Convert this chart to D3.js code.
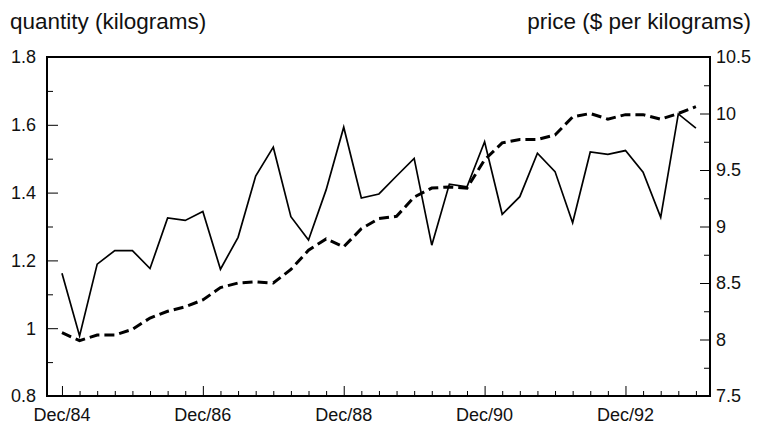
<!DOCTYPE html>
<html>
<head>
<meta charset="utf-8">
<script src="https://cdn.jsdelivr.net/npm/d3@7"></script>
<style>
  body { margin: 0; background: #fff; }
  text { font-family: "Liberation Sans", Arial, sans-serif; fill: #111; }
</style>
</head>
<body>
<script>
// quarterly observations, Dec/84 .. Dec/93
const quarters = [
  "Dec/84", "Mar/85", "Jun/85", "Sep/85", "Dec/85", "Mar/86", "Jun/86", "Sep/86",
  "Dec/86", "Mar/87", "Jun/87", "Sep/87", "Dec/87", "Mar/88", "Jun/88", "Sep/88",
  "Dec/88", "Mar/89", "Jun/89", "Sep/89", "Dec/89", "Mar/90", "Jun/90", "Sep/90",
  "Dec/90", "Mar/91", "Jun/91", "Sep/91", "Dec/91", "Mar/92", "Jun/92", "Sep/92",
  "Dec/92", "Mar/93", "Jun/93", "Sep/93", "Dec/93"
];

const quantity = [
  1.162, 0.977, 1.189, 1.229, 1.229, 1.176, 1.325, 1.318,
  1.344, 1.174, 1.268, 1.449, 1.534, 1.329, 1.260, 1.408,
  1.593, 1.384, 1.396, 1.449, 1.501, 1.245, 1.425, 1.417,
  1.550, 1.336, 1.388, 1.516, 1.462, 1.311, 1.520, 1.513,
  1.524, 1.460, 1.327, 1.632, 1.590
];

const price = [
  8.06, 7.99, 8.04, 8.04, 8.09, 8.19, 8.25, 8.29,
  8.35, 8.46, 8.50, 8.51, 8.50, 8.62, 8.79, 8.89,
  8.82, 8.98, 9.07, 9.09, 9.26, 9.34, 9.35, 9.34,
  9.59, 9.74, 9.77, 9.77, 9.81, 9.97, 10.00, 9.95,
  9.99, 9.99, 9.95, 10.00, 10.06
];

const xLabels = ["Dec/84", "Dec/86", "Dec/88", "Dec/90", "Dec/92"];
const leftTicks = [0.8, 1.0, 1.2, 1.4, 1.6, 1.8];
const rightTicks = [7.5, 8, 8.5, 9, 9.5, 10, 10.5];

const W = 760, H = 427;
const plot = { left: 47, right: 710, top: 57, bottom: 396 };

const svg = d3.select("body").append("svg")
    .attr("width", W)
    .attr("height", H);

const x = d3.scaleLinear()
    .domain([-0.85, 36.8])
    .range([plot.left, plot.right]);

const yQ = d3.scaleLinear()
    .domain([0.8, 1.8])
    .range([plot.bottom, plot.top]);

const yP = d3.scaleLinear()
    .domain([7.5, 10.5])
    .range([plot.bottom, plot.top]);

// left axis: minor every 0.1, labels every 0.2
const leftAxis = svg.append("g")
    .attr("transform", "translate(" + plot.left + ",0)")
    .call(d3.axisRight(yQ).tickValues(d3.range(0.8, 1.81, 0.1)).tickSize(6).tickFormat(""));
leftAxis.select(".domain").remove();
leftAxis.selectAll(".tick line")
    .attr("x2", (d, i) => i % 2 === 0 ? 11 : 6)
    .attr("stroke-width", 1);

svg.append("g").selectAll("text")
    .data(leftTicks)
  .enter().append("text")
    .attr("x", 36)
    .attr("y", d => yQ(d))
    .attr("dy", "0.36em")
    .attr("text-anchor", "end")
    .style("font-size", "18px")
    .text(d => d3.format(".1~f")(d));

// right axis: minor every 0.25, labels every 0.5
const rightAxis = svg.append("g")
    .attr("transform", "translate(" + plot.right + ",0)")
    .call(d3.axisLeft(yP).tickValues(d3.range(7.5, 10.51, 0.25)).tickSize(6).tickFormat(""));
rightAxis.select(".domain").remove();
rightAxis.selectAll(".tick line")
    .attr("x2", (d, i) => i % 2 === 0 ? -10 : -6)
    .attr("stroke-width", 1);

svg.append("g").selectAll("text")
    .data(rightTicks)
  .enter().append("text")
    .attr("x", 716)
    .attr("y", d => yP(d))
    .attr("dy", "0.36em")
    .attr("text-anchor", "start")
    .style("font-size", "18px")
    .text(d => d);

// bottom axis: quarterly ticks, labels every 2 years
const bottomAxis = svg.append("g")
    .attr("transform", "translate(0," + plot.bottom + ")")
    .call(d3.axisTop(x).tickValues(d3.range(0, quarters.length)).tickFormat(""));
bottomAxis.select(".domain").remove();
bottomAxis.selectAll(".tick line")
    .attr("y2", d => xLabels.includes(quarters[d]) ? -10 : -5)
    .attr("stroke-width", 1);

svg.append("g").selectAll("text")
    .data(xLabels)
  .enter().append("text")
    .attr("x", d => x(quarters.indexOf(d)))
    .attr("y", 421)
    .attr("text-anchor", "middle")
    .style("font-size", "18px")
    .text(d => d);

// frame
svg.append("rect")
    .attr("x", plot.left)
    .attr("y", plot.top)
    .attr("width", plot.right - plot.left)
    .attr("height", plot.bottom - plot.top)
    .attr("fill", "none")
    .attr("stroke", "#000")
    .attr("stroke-width", 2);

// series
const qLine = d3.line()
    .x((d, i) => x(i))
    .y(d => yQ(d));

const pLine = d3.line()
    .x((d, i) => x(i))
    .y(d => yP(d));

svg.append("path")
    .datum(price)
    .attr("d", pLine)
    .attr("fill", "none")
    .attr("stroke", "#000")
    .attr("stroke-width", 3)
    .attr("stroke-dasharray", "10,5");

svg.append("path")
    .datum(quantity)
    .attr("d", qLine)
    .attr("fill", "none")
    .attr("stroke", "#000")
    .attr("stroke-width", 1.7);

// axis titles
svg.append("text")
    .attr("x", 10)
    .attr("y", 29)
    .style("font-size", "22.5px")
    .text("quantity (kilograms)");

svg.append("text")
    .attr("x", 751)
    .attr("y", 29)
    .attr("text-anchor", "end")
    .style("font-size", "22.5px")
    .text("price ($ per kilograms)");
</script>
</body>
</html>
